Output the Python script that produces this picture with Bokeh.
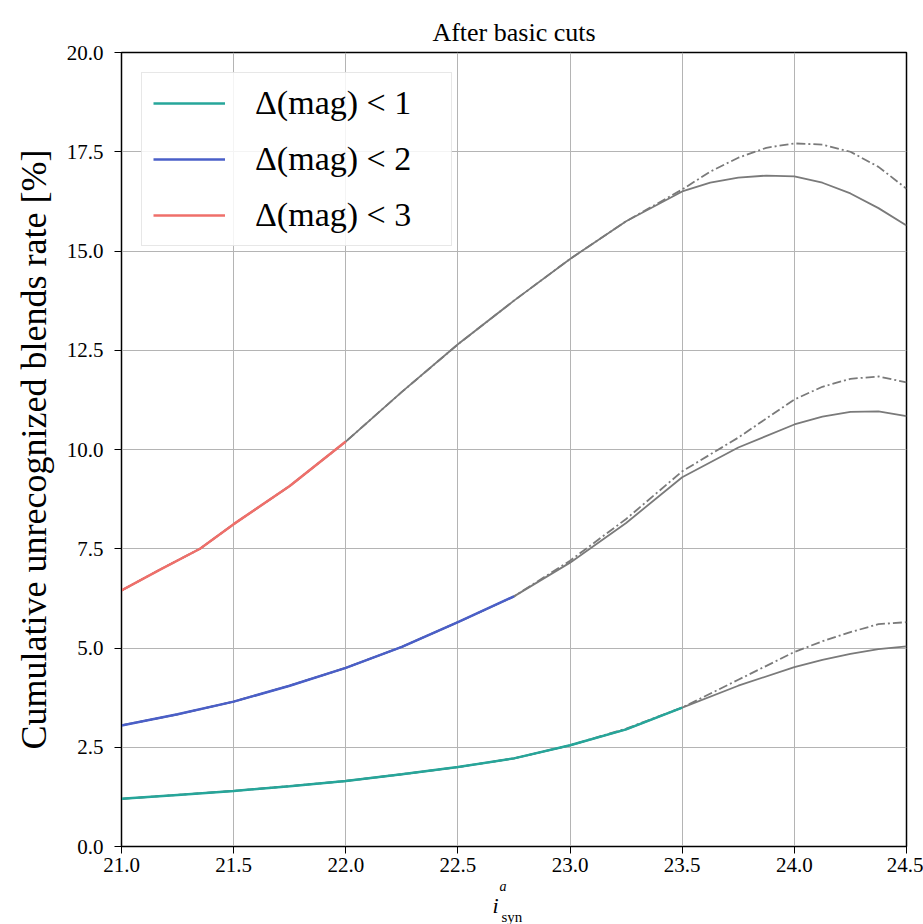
from bokeh.plotting import figure
from bokeh.models import Range1d, FixedTicker, Legend, LegendItem, Title, CustomJSTickFormatter
from bokeh.embed import file_html
from bokeh.resources import INLINE

# ---- data ----
x_ticks = [21.0, 21.5, 22.0, 22.5, 23.0, 23.5, 24.0, 24.5]
y_ticks = [0.0, 2.5, 5.0, 7.5, 10.0, 12.5, 15.0, 17.5, 20.0]

x3 = [21.0, 21.17, 21.35, 21.5, 21.75, 22.0, 22.25, 22.5, 22.75, 23.0, 23.25, 23.5, 23.625, 23.75, 23.875, 24.0, 24.125, 24.25, 24.375, 24.5]
y3_solid = [6.45, 6.97, 7.5, 8.12, 9.08, 10.2, 11.45, 12.65, 13.75, 14.8, 15.75, 16.5, 16.72, 16.85, 16.9, 16.88, 16.72, 16.45, 16.08, 15.64]
y3_dash = [6.45, 6.97, 7.5, 8.12, 9.08, 10.2, 11.45, 12.65, 13.75, 14.8, 15.75, 16.55, 17.0, 17.35, 17.6, 17.71, 17.68, 17.5, 17.12, 16.57]

x2 = [21.0, 21.25, 21.5, 21.75, 22.0, 22.25, 22.5, 22.75, 23.0, 23.25, 23.5, 23.75, 24.0, 24.125, 24.25, 24.375, 24.5]
y2_solid = [3.05, 3.33, 3.65, 4.05, 4.5, 5.03, 5.65, 6.3, 7.15, 8.15, 9.3, 10.05, 10.63, 10.83, 10.95, 10.96, 10.84]
y2_dash = [3.05, 3.33, 3.65, 4.05, 4.5, 5.03, 5.65, 6.3, 7.2, 8.25, 9.45, 10.3, 11.26, 11.58, 11.78, 11.84, 11.69]

x1 = [21.0, 21.25, 21.5, 21.75, 22.0, 22.25, 22.5, 22.75, 23.0, 23.25, 23.5, 23.75, 24.0, 24.125, 24.25, 24.375, 24.5]
y1_solid = [1.2, 1.3, 1.4, 1.52, 1.65, 1.82, 2.0, 2.22, 2.55, 2.95, 3.5, 4.05, 4.52, 4.7, 4.85, 4.97, 5.04]
y1_dash = [1.2, 1.3, 1.4, 1.52, 1.65, 1.82, 2.0, 2.22, 2.55, 2.97, 3.5, 4.2, 4.9, 5.17, 5.4, 5.6, 5.65]

# colored portion ends (number of leading points)
n3_col = 6   # up to 22.0
n2_col = 8   # up to 22.75
n1_col = 11  # up to 23.5

labels = ["Δ(mag) < 1", "Δ(mag) < 2", "Δ(mag) < 3"]
colors = ["#26a69a", "#4a5fc8", "#ef6f6a"]

SERIF = "Liberation Serif"

p = figure(width=923, height=924, output_backend="svg", toolbar_location=None,
           x_range=Range1d(21.0, 24.5), y_range=Range1d(0, 20),
           min_border_left=121, min_border_right=17, min_border_top=52, min_border_bottom=78)

p.title.text = "After basic cuts"
p.title.align = "center"
p.title.text_font = SERIF
p.title.text_font_style = "normal"
p.title.text_font_size = "26px"
p.title.text_color = "black"
p.title.standoff = 12

p.outline_line_color = "black"
p.outline_line_width = 1.5
p.background_fill_color = "white"
p.border_fill_color = "white"

for ax in (p.xaxis[0], p.yaxis[0]):
    ax.major_label_text_font = SERIF
    ax.major_label_text_font_size = "21px"
    ax.major_label_text_color = "black"
    ax.axis_line_color = "black"
    ax.major_tick_line_color = "black"
    ax.major_tick_out = 7
    ax.major_tick_in = 0
    ax.minor_tick_line_color = None
    ax.formatter = CustomJSTickFormatter(code="return tick.toFixed(1);")
p.yaxis.major_label_standoff = 11
p.xaxis.major_label_standoff = 4

p.xaxis.ticker = FixedTicker(ticks=x_ticks)
p.yaxis.ticker = FixedTicker(ticks=y_ticks)
p.xgrid.ticker = FixedTicker(ticks=x_ticks)
p.ygrid.ticker = FixedTicker(ticks=y_ticks)
p.grid.grid_line_color = "#b4b4b4"
p.grid.grid_line_width = 1

p.yaxis.axis_label = "Cumulative unrecognized blends rate [%]"
p.yaxis.axis_label_text_font = SERIF
p.yaxis.axis_label_text_font_style = "normal"
p.yaxis.axis_label_text_font_size = "36px"
p.yaxis.axis_label_text_color = "black"
p.yaxis.axis_label_standoff = 10

gray = "#7a7a7a"
for xs, ys, ysd in ((x3, y3_solid, y3_dash), (x2, y2_solid, y2_dash), (x1, y1_solid, y1_dash)):
    p.line(xs, ysd, line_color=gray, line_width=1.8, line_dash="9 3 2 3")
    p.line(xs, ys, line_color=gray, line_width=1.8)

r1 = p.line(x1[:n1_col], y1_solid[:n1_col], line_color=colors[0], line_width=2.5)
r2 = p.line(x2[:n2_col], y2_solid[:n2_col], line_color=colors[1], line_width=2.5)
r3 = p.line(x3[:n3_col], y3_solid[:n3_col], line_color=colors[2], line_width=2.5)

legend = Legend(items=[LegendItem(label=labels[0], renderers=[r1]),
                       LegendItem(label=labels[1], renderers=[r2]),
                       LegendItem(label=labels[2], renderers=[r3])],
                location="top_left")
legend.margin = 20
legend.padding = 11
legend.spacing = 18
legend.label_height = 34
legend.glyph_height = 34
legend.glyph_width = 72
legend.label_standoff = 30
legend.label_width = 185
legend.label_text_font = SERIF
legend.label_text_font_size = "34px"
legend.label_text_color = "black"
legend.border_line_color = "#cfcfcf"
legend.border_line_width = 1.2
legend.background_fill_color = "white"
legend.background_fill_alpha = 0.85
p.add_layout(legend)

# x axis label: i^a_syn, built from stacked titles below the axis
t_a = Title(text="a", align="left", offset=378, text_font=SERIF, text_font_style="italic",
            text_font_size="14px", text_color="black", standoff=5)
t_i = Title(text="i", align="left", offset=371, text_font=SERIF, text_font_style="italic",
            text_font_size="22px", text_color="black", standoff=-11)
t_s = Title(text="syn", align="left", offset=380, text_font=SERIF, text_font_style="normal",
            text_font_size="15px", text_color="black", standoff=-12)
p.add_layout(t_a, "below")
p.add_layout(t_i, "below")
p.add_layout(t_s, "below")

open("out.html", "w").write(file_html(p, INLINE))
